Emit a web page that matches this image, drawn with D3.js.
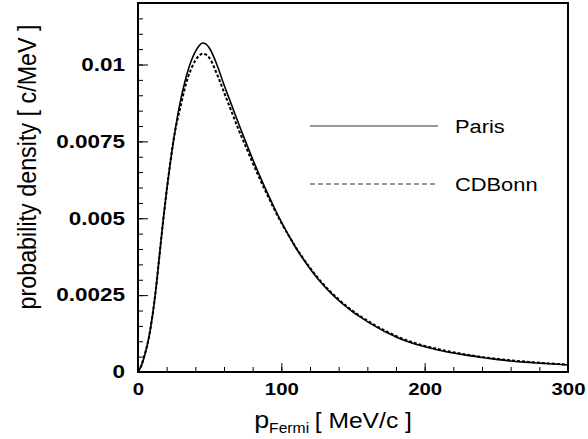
<!DOCTYPE html>
<html>
<head>
<meta charset="utf-8">
<script src="https://cdn.jsdelivr.net/npm/d3@7/dist/d3.min.js"></script>
<style>
  html, body { margin: 0; padding: 0; background: #fff; }
  svg { display: block; }
</style>
</head>
<body>
<svg id="chart" width="588" height="439"></svg>
<script>
// Fermi momentum distribution of the nucleon in the deuteron, two NN potentials
const momentum = [0, 2.5, 5, 7.5, 10, 12.5, 15, 17.5, 20, 22.5, 25, 27.5, 30, 32.5, 35, 37.5, 40, 42.5, 45, 47.5, 50,
  55, 60, 65, 70, 75, 80, 85, 90, 95, 100,
  105, 110, 115, 120, 125, 130, 135, 140, 145, 150,
  155, 160, 165, 170, 175, 180,
  190, 200, 210, 220, 230, 240, 250, 260, 270, 280, 290, 300];

const paris = [0, 0.00022, 0.0006, 0.0011, 0.0018, 0.0027, 0.0038, 0.0049, 0.0059, 0.0068, 0.0076, 0.0083, 0.0089, 0.0094, 0.00982, 0.01016, 0.01042, 0.0106, 0.0107, 0.01066, 0.01052,
  0.0100, 0.00934, 0.00872, 0.0081, 0.0075, 0.00692, 0.00637, 0.00585, 0.00535, 0.00488,
  0.00445, 0.00405, 0.00369, 0.00336, 0.00306, 0.00279, 0.00255, 0.00233, 0.00213, 0.00195,
  0.00179, 0.00164, 0.0015, 0.00137, 0.00125, 0.00114,
  0.00096, 0.00082, 0.00071, 0.00062, 0.00054, 0.00047, 0.00041, 0.00036, 0.00032, 0.00029, 0.00026, 0.00023];

const cdbonn = [0, 0.00024, 0.00062, 0.0011, 0.0018, 0.0027, 0.0038, 0.0049, 0.0059, 0.0068, 0.0076, 0.0082, 0.0087, 0.0092, 0.0096, 0.0099, 0.01013, 0.01028, 0.01035, 0.01032, 0.0102,
  0.0097, 0.0091, 0.0085, 0.0079, 0.00735, 0.0068, 0.00628, 0.00578, 0.0053, 0.00485,
  0.00445, 0.00406, 0.00371, 0.00339, 0.00309, 0.00282, 0.00258, 0.00236, 0.00216, 0.00198,
  0.00182, 0.00167, 0.00153, 0.0014, 0.00128, 0.00117,
  0.00099, 0.00085, 0.00074, 0.00064, 0.00056, 0.00049, 0.00043, 0.00038, 0.00034, 0.0003, 0.00027, 0.00024];

const xTicks = [0, 100, 200, 300];
const yTicks = [0, 0.0025, 0.005, 0.0075, 0.01];
const yTickLabels = ["0", "0.0025", "0.005", "0.0075", "0.01"];
const seriesNames = ["Paris", "CDBonn"];

const svg = d3.select("#chart");
const plotLeft = 138, plotRight = 568, plotTop = 3, plotBottom = 372;

const x = d3.scaleLinear().domain([0, 300]).range([plotLeft, plotRight]);
const y = d3.scaleLinear().domain([0, 0.012]).range([plotBottom, plotTop]);

const tickFont = "'Liberation Sans', Arial, Helvetica, sans-serif";

// minor ticks (inside the frame)
svg.append("g")
  .attr("transform", `translate(0,${plotBottom})`)
  .call(d3.axisBottom(x).tickValues(d3.range(0, 301, 20)).tickSize(-5).tickFormat(""))
  .call(g => g.select(".domain").remove())
  .call(g => g.selectAll("line").attr("stroke", "#000").attr("stroke-width", 1));

svg.append("g")
  .attr("transform", `translate(${plotLeft},0)`)
  .call(d3.axisLeft(y).tickValues(d3.range(0, 24).map(i => i * 0.0005)).tickSize(-5).tickFormat(""))
  .call(g => g.select(".domain").remove())
  .call(g => g.selectAll("line").attr("stroke", "#000").attr("stroke-width", 1));

// major ticks with labels
const xAxis = svg.append("g")
  .attr("transform", `translate(0,${plotBottom})`)
  .call(d3.axisBottom(x).tickValues(xTicks).tickSize(-9).tickPadding(10).tickFormat(d3.format("d")));
xAxis.select(".domain").remove();
xAxis.selectAll("line").attr("stroke", "#000").attr("stroke-width", 1);
xAxis.selectAll("text")
  .attr("fill", "#000")
  .attr("dy", "0.71em")
  .attr("y", 11)
  .style("font-family", tickFont)
  .style("font-size", "17px")
  .style("font-weight", "bold")
  .attr("transform", "scale(1.2,1)");

const yAxis = svg.append("g")
  .attr("transform", `translate(${plotLeft},0)`)
  .call(d3.axisLeft(y).tickValues(yTicks).tickSize(-10).tickPadding(13)
    .tickFormat((d, i) => yTickLabels[i]));
yAxis.select(".domain").remove();
yAxis.selectAll("line").attr("stroke", "#000").attr("stroke-width", 1);
yAxis.selectAll("text")
  .attr("fill", "#000")
  .attr("x", -13 / 1.25)
  .style("font-family", tickFont)
  .style("font-size", "18px")
  .style("font-weight", "bold")
  .attr("transform", "scale(1.25,1)");

// frame
svg.append("rect")
  .attr("x", plotLeft).attr("y", plotTop)
  .attr("width", plotRight - plotLeft).attr("height", plotBottom - plotTop)
  .attr("fill", "none").attr("stroke", "#000").attr("stroke-width", 2);

// curves
const line = d3.line().curve(d3.curveMonotoneX);
const pts = vals => momentum.map((p, i) => [x(p), y(vals[i])]);

svg.append("path")
  .attr("d", line(pts(cdbonn)))
  .attr("fill", "none").attr("stroke", "#000").attr("stroke-width", 2)
  .attr("stroke-dasharray", "3,2");

svg.append("path")
  .attr("d", line(pts(paris)))
  .attr("fill", "none").attr("stroke", "#000").attr("stroke-width", 1.6);

// legend
const legendY = [126, 184];
const legendDash = [null, "5,3"];
seriesNames.forEach((name, i) => {
  svg.append("line")
    .attr("x1", 310).attr("x2", 438)
    .attr("y1", legendY[i]).attr("y2", legendY[i])
    .attr("stroke", "#333").attr("stroke-width", 1)
    .attr("stroke-dasharray", legendDash[i]);
  svg.append("text")
    .attr("transform", `translate(455,${legendY[i]}) scale(1.15,1)`)
    .attr("dy", "0.35em")
    .style("font-family", tickFont)
    .style("font-size", "19px")
    .attr("fill", "#000")
    .text(name);
});

// axis titles
const xt = svg.append("text")
  .attr("transform", "translate(333,428) scale(1.12,1)")
  .attr("text-anchor", "middle")
  .style("font-family", tickFont)
  .style("font-size", "22px")
  .attr("fill", "#000");
xt.append("tspan").style("font-size", "24px").text("p");
xt.append("tspan").attr("dy", 5).style("font-size", "14px").text("Fermi");
xt.append("tspan").attr("dy", -5).attr("dx", 5).text("[ MeV/c ]");

svg.append("text")
  .attr("transform", "translate(36,167) scale(1.2,1) rotate(-90)")
  .attr("text-anchor", "middle")
  .style("font-family", tickFont)
  .style("font-size", "21px")
  .attr("fill", "#000")
  .attr("textLength", 285)
  .attr("lengthAdjust", "spacingAndGlyphs")
  .text("probability density [ c/MeV ]");
</script>
</body>
</html>
